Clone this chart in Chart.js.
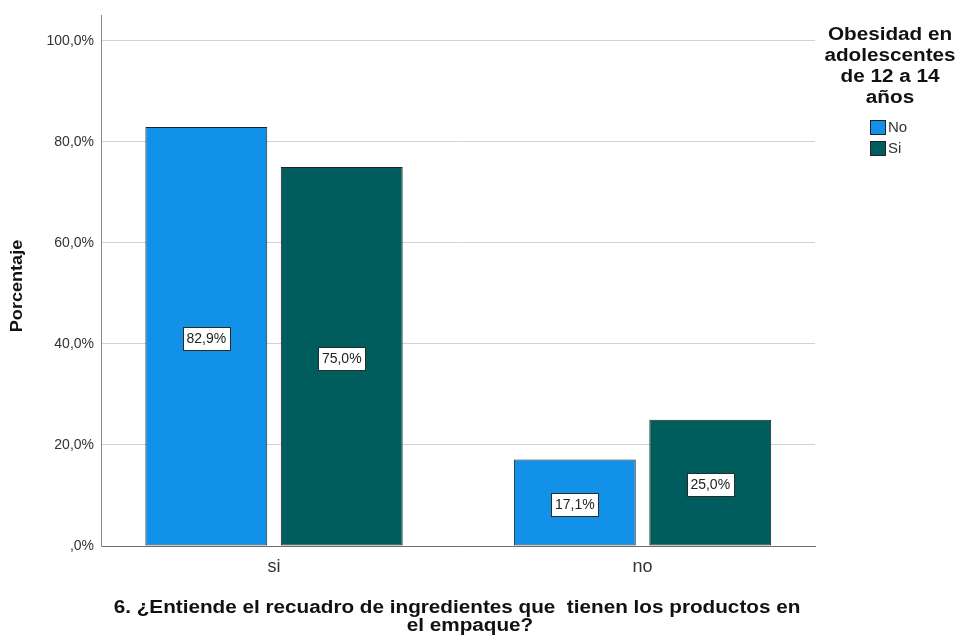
<!DOCTYPE html>
<html>
<head>
<meta charset="utf-8">
<title>Porcentaje</title>
<script src="https://cdn.jsdelivr.net/npm/chart.js@4.4.1/dist/chart.umd.min.js"></script>
<style>
  html, body { margin: 0; padding: 0; background: #fff; }
  #wrap { width: 960px; height: 640px; position: relative; }
</style>
</head>
<body>
<div id="wrap"><canvas id="chart" width="960" height="640"></canvas></div>
<script>
// ─── Data ─────────────────────────────────────────────────────
const categories = ['si', 'no'];
const seriesNames = ['No', 'Si'];
const valuesNo = [82.9, 17.1];
const valuesSi = [75.0, 25.0];
const yTicks = [0, 20, 40, 60, 80, 100];

const seriesColors = ['#1192E8', '#005D5D'];
const legendTitle = ['Obesidad en', 'adolescentes', 'de 12 a 14', 'años'];
const xTitle = ['6. ¿Entiende el recuadro de ingredientes que  tienen los productos en', 'el empaque?'];
const yTitle = 'Porcentaje';

const FONT = 'Arial, "Liberation Sans", sans-serif';

function pct(v) {
  const s = v.toFixed(1).replace('.', ',');
  return (s.startsWith('0,') ? s.slice(1) : s) + '%';
}

// categories sit on integer positions of a linear x axis, so the
// gaps at the plot edges can differ from the gap between groups
function toPoints(values) {
  return values.map((v, i) => ({ x: i, y: v }));
}

// text drawn a little wider than the stock face
function wideText(ctx, text, x, y, sx) {
  ctx.save();
  ctx.translate(x, y);
  ctx.scale(sx, 1);
  ctx.fillText(text, 0, 0);
  ctx.restore();
}

// ─── Value boxes inside the bars ──────────────────────────────
const valueBoxes = {
  id: 'valueBoxes',
  afterDatasetsDraw(chart) {
    const ctx = chart.ctx;
    ctx.save();
    ctx.font = '14px ' + FONT;
    ctx.textAlign = 'center';
    ctx.textBaseline = 'middle';
    chart.data.datasets.forEach((ds, i) => {
      const meta = chart.getDatasetMeta(i);
      meta.data.forEach((bar, j) => {
        const label = pct(ds.data[j].y);
        const cy = (bar.y + bar.base) / 2 + 2;
        const w = Math.round(ctx.measureText(label).width + 7);
        const h = 23;
        const x0 = Math.round(bar.x - w / 2) + 0.5;
        const y0 = Math.round(cy - h / 2) + 0.5;
        ctx.fillStyle = '#fff';
        ctx.fillRect(x0, y0, w, h);
        ctx.strokeStyle = '#2a2a2a';
        ctx.lineWidth = 1;
        ctx.strokeRect(x0, y0, w, h);
        ctx.fillStyle = '#222';
        ctx.fillText(label, bar.x, cy + 1);
      });
    });
    ctx.restore();
  }
};

// ─── Axis titles and legend block ─────────────────────────────
const decorations = {
  id: 'decorations',
  afterDraw(chart) {
    const ctx = chart.ctx;
    ctx.save();
    ctx.fillStyle = '#111';
    ctx.textAlign = 'center';
    ctx.textBaseline = 'middle';

    // y title
    ctx.save();
    ctx.translate(18, 286);
    ctx.rotate(-Math.PI / 2);
    ctx.font = 'bold 16px ' + FONT;
    wideText(ctx, yTitle, 0, 0, 1.13);
    ctx.restore();

    // x title
    ctx.font = 'bold 18px ' + FONT;
    wideText(ctx, xTitle[0], 457, 608, 1.15);
    wideText(ctx, xTitle[1], 470, 626, 1.15);

    // legend
    ctx.font = 'bold 18px ' + FONT;
    legendTitle.forEach((t, i) => wideText(ctx, t, 890, 35 + i * 21, 1.15));
    ctx.font = '15px ' + FONT;
    ctx.textAlign = 'left';
    seriesNames.forEach((name, i) => {
      const y = 120 + i * 21;
      ctx.fillStyle = seriesColors[i];
      ctx.fillRect(870.5, y + 0.5, 15, 14);
      ctx.strokeStyle = '#222';
      ctx.lineWidth = 1;
      ctx.strokeRect(870.5, y + 0.5, 15, 14);
      ctx.fillStyle = '#333';
      ctx.fillText(name, 888, y + 8);
    });
    ctx.restore();
  }
};

const barStyle = {
  borderColor: '#222',
  borderWidth: 1,
  borderSkipped: false,
  barPercentage: 0.9,
  categoryPercentage: 0.735
};

new Chart(document.getElementById('chart'), {
  type: 'bar',
  data: {
    datasets: [
      Object.assign({ label: seriesNames[0], data: toPoints(valuesNo), backgroundColor: seriesColors[0] }, barStyle),
      Object.assign({ label: seriesNames[1], data: toPoints(valuesSi), backgroundColor: seriesColors[1] }, barStyle)
    ]
  },
  options: {
    responsive: false,
    animation: false,
    layout: { padding: { top: 14, right: 145, left: 0, bottom: 0 } },
    plugins: {
      legend: { display: false },
      tooltip: { enabled: false }
    },
    scales: {
      x: {
        type: 'linear',
        offset: false,
        min: -0.4695,
        max: 1.468,
        afterFit(s) { s.height = 94; },
        afterBuildTicks(s) { s.ticks = categories.map((c, i) => ({ value: i })); },
        grid: { display: false, drawTicks: false, offset: false },
        border: { display: true, color: '#6f6f6f', width: 1 },
        ticks: {
          color: '#333',
          font: { family: FONT, size: 18 },
          padding: 10,
          callback: v => categories[v]
        }
      },
      y: {
        min: 0,
        max: 105,
        afterFit(s) { s.width = 101; },
        afterBuildTicks(s) { s.ticks = yTicks.map(v => ({ value: v })); },
        grid: { color: '#d2d2d2', drawTicks: false },
        border: { display: true, color: '#8a8a8a', width: 1 },
        ticks: {
          color: '#333',
          font: { family: FONT, size: 14 },
          padding: 7,
          callback: v => pct(v)
        }
      }
    }
  },
  plugins: [valueBoxes, decorations]
});
</script>
</body>
</html>
